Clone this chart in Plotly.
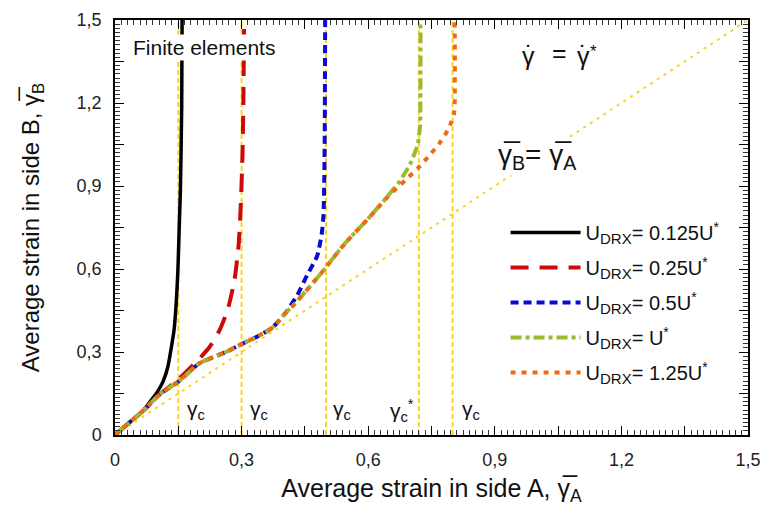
import plotly.graph_objects as go

# ---------------- data ----------------
x_0125 = [0, 0.03, 0.067, 0.082, 0.100, 0.114, 0.125, 0.133, 0.140, 0.145, 0.149, 0.152, 0.155, 0.158, 0.159]
y_0125 = [0, 0.04, 0.088, 0.118, 0.155, 0.194, 0.245, 0.312, 0.380, 0.476, 0.594, 0.74, 0.888, 1.18, 1.5]

x_025 = [0, 0.03, 0.067, 0.106, 0.150, 0.165, 0.200, 0.224, 0.247, 0.267, 0.283, 0.293, 0.298, 0.302, 0.304, 0.306]
y_025 = [0, 0.04, 0.088, 0.147, 0.200, 0.223, 0.276, 0.318, 0.376, 0.453, 0.559, 0.688, 0.829, 1.006, 1.18, 1.5]

x_05 = [0, 0.03, 0.067, 0.106, 0.151, 0.200, 0.263, 0.294, 0.341, 0.373, 0.404, 0.432, 0.455, 0.479, 0.490, 0.494, 0.496, 0.497, 0.498]
y_05 = [0, 0.04, 0.088, 0.147, 0.194, 0.259, 0.300, 0.324, 0.359, 0.388, 0.441, 0.506, 0.577, 0.647, 0.729, 0.794, 0.935, 1.088, 1.5]

x_1 = [0, 0.03, 0.067, 0.106, 0.151, 0.200, 0.263, 0.294, 0.341, 0.373, 0.404, 0.424, 0.487, 0.546, 0.600, 0.647,
       0.675, 0.699, 0.710, 0.718, 0.721, 0.723, 0.724]
y_1 = [0, 0.04, 0.088, 0.147, 0.194, 0.259, 0.300, 0.324, 0.359, 0.388, 0.441, 0.471, 0.582, 0.694, 0.782, 0.865,
       0.918, 0.978, 1.018, 1.053, 1.090, 1.120, 1.5]

x_125 = [0, 0.03, 0.067, 0.106, 0.151, 0.200, 0.263, 0.294, 0.341, 0.373, 0.404, 0.424, 0.487, 0.546, 0.600, 0.647,
         0.688, 0.718, 0.746, 0.771, 0.790, 0.803, 0.805, 0.805]
y_125 = [0, 0.04, 0.088, 0.147, 0.194, 0.259, 0.300, 0.324, 0.359, 0.388, 0.441, 0.471, 0.582, 0.694, 0.782, 0.862,
         0.921, 0.965, 1.012, 1.059, 1.106, 1.159, 1.20, 1.5]

gamma_c = [0.15, 0.30, 0.50, 0.72, 0.80]
gamma_c_labels = ["γ<sub>c</sub>", "γ<sub>c</sub>", "γ<sub>c</sub>", "γ<sub>c</sub><sup>*</sup>", "γ<sub>c</sub>"]
gamma_c_label_x = [0.192, 0.341, 0.538, 0.679, 0.844]

diag = [0, 1.5]
tick_vals = [0, 0.15, 0.3, 0.45, 0.6, 0.75, 0.9, 1.05, 1.2, 1.35, 1.5]
tick_text = ["0", " ", "0,3", " ", "0,6", " ", "0,9", " ", "1,2", " ", "1,5"]

SUB = "<sub><span style='font-size:15px'>DRX</span></sub>"
names = [f"U{SUB}= 0.125U<sup>*</sup>", f"U{SUB}= 0.25U<sup>*</sup>",
         f"U{SUB}= 0.5U<sup>*</sup>", f"U{SUB}= U<sup>*</sup>",
         f"U{SUB}= 1.25U<sup>*</sup>"]

# ---------------- figure ----------------
YEL = "#f7d232"
fig = go.Figure()

for g in gamma_c:
    fig.add_trace(go.Scatter(x=[g, g], y=[0, 1.5], mode="lines", showlegend=False,
                             line=dict(color=YEL, width=2, dash="5px,3px"), hoverinfo="skip"))
fig.add_trace(go.Scatter(x=diag, y=diag, mode="lines", showlegend=False,
                         line=dict(color=YEL, width=2, dash="3px,5px"), hoverinfo="skip"))

styles = [
    dict(color="#000000", width=3.5, dash="solid"),
    dict(color="#cc0a0a", width=4, dash="18px,11px"),
    dict(color="#0a0ad0", width=4, dash="8px,5px"),
    dict(color="#9bbb2f", width=4, dash="11px,4px,4px,4px"),
    dict(color="#f06a10", width=4, dash="5px,6px"),
]
series = [(x_0125, y_0125), (x_025, y_025), (x_05, y_05), (x_1, y_1), (x_125, y_125)]
for i, ((xs, ys), st, nm) in enumerate(zip(series, styles, names)):
    fig.add_trace(go.Scatter(x=xs, y=ys, mode="lines", name=nm, legendgroup=f"g{i}",
                             line=dict(st, shape="spline", smoothing=0.6)))

FONT = "Liberation Sans, Arial, sans-serif"
ann = [
    dict(x=0.212, y=1.40, text="Finite elements", font=dict(size=21, family=FONT), bgcolor="white"),
    # γ̇ = γ̇* built from pieces
    dict(x=0.981, y=1.37, text="γ", font=dict(size=25, family=FONT)),
    dict(x=0.981, y=1.375, text="˙", font=dict(size=25, family=FONT)),
    dict(x=1.054, y=1.38, text="=", font=dict(size=25, family=FONT)),
    dict(x=1.109, y=1.37, text="γ", font=dict(size=25, family=FONT)),
    dict(x=1.109, y=1.375, text="˙", font=dict(size=25, family=FONT)),
    dict(x=1.133, y=1.385, text="*", font=dict(size=17, family=FONT)),
    dict(x=1.0, y=1.005, text="γ̅<sub>B</sub>= γ̅<sub>A</sub>", font=dict(size=28, family=FONT), bgcolor="white"),
]
for lx, lt in zip(gamma_c_label_x, gamma_c_labels):
    ann.append(dict(x=lx, y=0.09, text=lt, font=dict(size=21, family=FONT)))
for a in ann:
    a.update(xref="x", yref="y", showarrow=False)
    a["font"].update(color="#111")

common = dict(
    range=[0, 1.5], tickmode="array", tickvals=tick_vals, ticktext=tick_text,
    ticks="inside", ticklen=9, tickwidth=1.3, tickcolor="#000000",
    minor=dict(dtick=0.015, tick0=0, ticks="inside", ticklen=5, tickwidth=1,
               tickcolor="#333333", showgrid=False),
    showline=True, linecolor="black", linewidth=1.5, mirror="allticks",
    showgrid=False, zeroline=False, ticklabelstandoff=8,
    tickfont=dict(size=18, family=FONT, color="#222"),
)

xaxis = dict(common,
             title=dict(text="Average strain in side A, γ̅<sub>A</sub>",
                        font=dict(size=25, family=FONT, color="#111"), standoff=10))
yaxis = dict(common,
             title=dict(text="Average strain in side B, γ̅<sub>B</sub>",
                        font=dict(size=24, family=FONT, color="#111"), standoff=30))

fig.update_layout(
    width=771, height=523,
    margin=dict(l=115, r=19, t=10, b=88),
    plot_bgcolor="white", paper_bgcolor="white",
    font=dict(family=FONT, color="#111"),
    xaxis=xaxis, yaxis=yaxis,
    legend=dict(x=0.617, y=0.535, xanchor="left", yanchor="top", bgcolor="rgba(0,0,0,0)",
                font=dict(size=20, family=FONT, color="#111"), itemwidth=70, tracegroupgap=6),
    annotations=ann,
)

fig.write_html("out.html")
